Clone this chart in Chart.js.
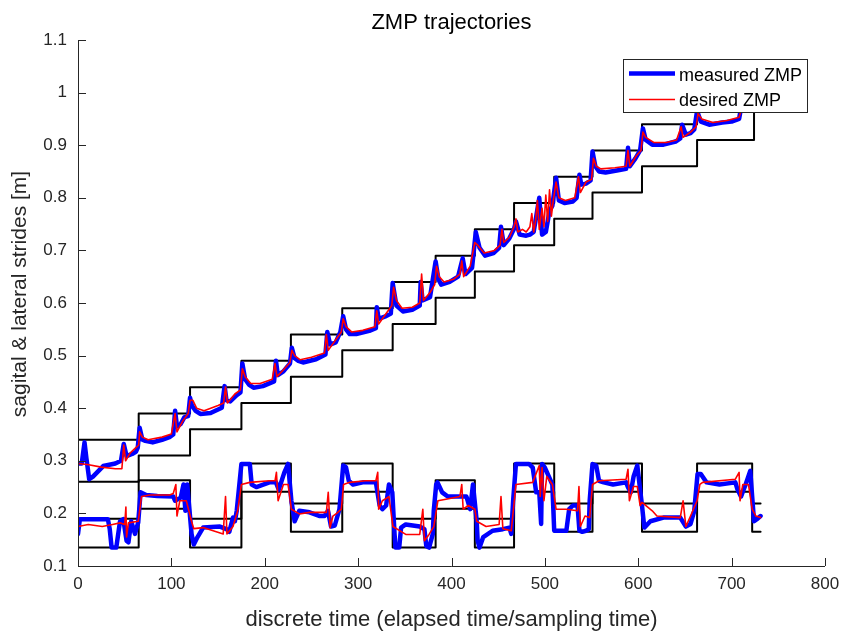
<!DOCTYPE html>
<html>
<head>
<meta charset="utf-8">
<script src="https://cdn.jsdelivr.net/npm/chart.js@4.4.1/dist/chart.umd.min.js"></script>
<style>
  html, body { margin: 0; padding: 0; background: #fff; }
</style>
</head>
<body>
<canvas id="zmpChart" width="855" height="634"></canvas>
<script>
// axis ticks
const xTicks = [0, 100, 200, 300, 400, 500, 600, 700, 800];
const yTickLabels = ['0.1', '0.2', '0.3', '0.4', '0.5', '0.6', '0.7', '0.8', '0.9', '1', '1.1'];

// footstep bounds (value holds from its time until the next one)
const stepTimes = [0, 65, 120, 175, 228, 283, 337, 383, 425, 467, 510, 551, 604, 663, 724];
const sagittalUpper = [0.34, 0.39, 0.44, 0.49, 0.54, 0.59, 0.64, 0.69, 0.74, 0.79, 0.84, 0.89, 0.94, 0.99, 0.99];
const sagittalLower = [0.26, 0.31, 0.36, 0.41, 0.46, 0.51, 0.56, 0.61, 0.66, 0.71, 0.76, 0.81, 0.86, 0.91, 0.99];
const lateralTimes = [0, 65, 120, 175, 228, 283, 337, 383, 425, 467, 510, 551, 604, 663, 722, 731];
const lateralUpper = [0.19, 0.263, 0.19, 0.295, 0.219, 0.295, 0.19, 0.263, 0.19, 0.295, 0.219, 0.295, 0.219, 0.295, 0.219, 0.219];
const lateralLower = [0.135, 0.209, 0.135, 0.241, 0.165, 0.241, 0.135, 0.209, 0.135, 0.241, 0.165, 0.241, 0.165, 0.241, 0.165, 0.165];

// measured ZMP, sagittal [t, m]
const measuredSagittal = [
  [0,0.295],[4,0.295],[7,0.335],[9,0.305],[12,0.265],[16,0.27],[27,0.29],[40,0.295],[46,0.30],[49,0.332],[52,0.309],[58,0.313],[62,0.317],[64,0.325],
  [66,0.363],[69,0.34],[72,0.338],[80,0.335],[90,0.34],[98,0.345],[102,0.35],[104,0.395],[106,0.365],[110,0.37],[114,0.383],[118,0.385],[120,0.42],
  [122,0.405],[126,0.395],[131,0.389],[142,0.391],[154,0.401],[157,0.442],[159,0.415],[163,0.413],[170,0.425],[174,0.43],[176,0.485],
  [179,0.455],[183,0.445],[188,0.439],[198,0.442],[210,0.451],[212,0.49],[214,0.463],[220,0.47],[227,0.485],[229,0.515],
  [232,0.495],[236,0.49],[241,0.487],[255,0.493],[265,0.502],[267,0.545],[270,0.521],[276,0.525],[281,0.545],[284,0.575],
  [287,0.55],[291,0.541],[298,0.541],[312,0.547],[319,0.552],[320,0.592],[322,0.57],[330,0.575],[335,0.58],[337,0.638],
  [341,0.595],[348,0.584],[358,0.587],[366,0.595],[367,0.64],[369,0.605],[377,0.611],[383,0.679],
  [386,0.645],[389,0.635],[398,0.64],[407,0.65],[412,0.685],[415,0.655],[422,0.667],[426,0.735],
  [430,0.705],[436,0.69],[445,0.695],[451,0.705],[453,0.745],[456,0.71],[462,0.723],[467,0.741],
  [469,0.755],[473,0.73],[480,0.728],[484,0.73],[488,0.735],[494,0.80],[497,0.73],[501,0.735],[505,0.775],[508,0.785],[512,0.838],
  [515,0.795],[521,0.79],[530,0.793],[534,0.80],[537,0.844],[539,0.825],[544,0.827],[549,0.833],[551,0.888],
  [554,0.86],[558,0.85],[565,0.848],[580,0.853],[587,0.855],[589,0.895],[591,0.86],[597,0.875],[602,0.89],[605,0.932],
  [608,0.91],[615,0.901],[627,0.901],[640,0.907],[645,0.913],[647,0.939],[651,0.92],[656,0.923],[660,0.93],[663,0.965],
  [667,0.945],[676,0.939],[690,0.943],[700,0.945],[708,0.95],[710,0.97]
];

// desired ZMP, sagittal
const desiredSagittal = [
  [0,0.295],[10,0.293],[25,0.288],[40,0.285],[47,0.285],[49,0.33],[51,0.30],[56,0.315],[62,0.325],[65,0.33],
  [66,0.355],[69,0.345],[75,0.34],[90,0.345],[100,0.351],[104,0.39],[106,0.355],[112,0.375],[118,0.39],[120,0.415],
  [123,0.415],[127,0.40],[135,0.395],[150,0.405],[156,0.41],[158,0.44],[160,0.41],[168,0.427],[174,0.435],[176,0.475],
  [179,0.46],[185,0.447],[195,0.447],[208,0.455],[211,0.485],[213,0.46],[220,0.473],[227,0.487],[229,0.51],
  [232,0.50],[238,0.492],[250,0.497],[264,0.505],[266,0.54],[268,0.51],[276,0.53],[282,0.545],[284,0.57],
  [287,0.555],[293,0.545],[305,0.548],[318,0.555],[320,0.585],[322,0.56],[330,0.58],[336,0.595],[338,0.63],
  [341,0.605],[347,0.59],[358,0.592],[366,0.60],[368,0.655],[370,0.605],[377,0.62],[382,0.635],[384,0.67],
  [387,0.65],[392,0.64],[402,0.645],[409,0.655],[411,0.68],[413,0.65],[420,0.67],[425,0.715],
  [428,0.71],[435,0.695],[446,0.70],[452,0.71],[454,0.74],[456,0.715],[462,0.725],[467,0.745],
  [469,0.76],[471,0.735],[476,0.74],[480,0.735],[484,0.745],[486,0.77],[488,0.735],[490,0.755],[492,0.795],[494,0.74],[497,0.78],[499,0.745],[501,0.805],[503,0.755],[505,0.815],[507,0.765],[509,0.795],[512,0.83],
  [515,0.80],[522,0.795],[532,0.80],[536,0.84],[538,0.81],[544,0.83],[550,0.835],[552,0.875],
  [555,0.86],[560,0.855],[575,0.857],[587,0.86],[589,0.89],[591,0.86],[598,0.88],[603,0.89],[605,0.925],
  [608,0.915],[617,0.905],[630,0.905],[641,0.91],[646,0.935],[648,0.915],[656,0.925],[662,0.935],[664,0.96],
  [668,0.95],[680,0.943],[695,0.947],[708,0.953],[710,0.965]
];

// measured ZMP, lateral
const measuredLateral = [
  [0,0.161],[2,0.189],[32,0.189],[34,0.17],[36,0.135],[41,0.135],[45,0.185],[48.5,0.189],[52,0.148],[54,0.145],[57,0.185],[61,0.161],[64.5,0.183],
  [67,0.24],[73,0.235],[85,0.233],[102,0.232],[104,0.224],[110,0.23],[113,0.255],[115,0.205],[117,0.255],
  [121.6,0.161],[124,0.141],[128,0.155],[134,0.173],[152,0.175],[159,0.17],[162,0.165],[166,0.192],[168,0.185],[170,0.205],
  [175,0.294],[184,0.294],[186,0.255],[191,0.25],[205,0.259],[212,0.259],[215,0.245],[221,0.278],[225,0.294],
  [228.5,0.224],[232,0.185],[237,0.205],[248,0.202],[259,0.195],[264,0.195],[267.7,0.205],[271,0.175],[275,0.177],[280,0.208],
  [284,0.291],[287,0.288],[290,0.262],[294.5,0.255],[305,0.259],[319,0.259],[323,0.215],[326,0.208],[330,0.215],[333,0.255],[336.6,0.24],
  [339,0.161],[340,0.135],[344,0.135],[346,0.173],[351,0.179],[366,0.175],[371,0.17],[373,0.138],[376,0.135],[380,0.161],[381,0.205],
  [383.6,0.255],[385,0.259],[390,0.24],[396,0.232],[409,0.232],[416,0.232],[420,0.208],[423,0.255],
  [427,0.185],[428,0.148],[430,0.135],[434,0.155],[444,0.167],[455,0.17],[462,0.173],[464,0.161],[466,0.224],
  [469,0.294],[483,0.294],[487,0.287],[490.7,0.24],[494,0.24],[496,0.18],[497,0.294],[500,0.287],[508,0.255],
  [510,0.167],[514,0.167],[523,0.167],[526,0.208],[530,0.215],[535,0.215],[537,0.167],[540,0.165],[544,0.167],[547,0.17],[548,0.224],
  [551,0.294],[555,0.291],[558,0.262],[563,0.259],[573,0.255],[587,0.259],[589,0.25],[592,0.24],[595,0.27],[599,0.291],
  [604,0.215],[606.5,0.173],[613,0.185],[627,0.192],[645,0.192],[651,0.175],[656,0.18],[660,0.205],
  [663.5,0.275],[667,0.275],[673,0.259],[687,0.255],[704,0.259],[706,0.247],[710,0.232],[715,0.255],[720,0.281],
  [722,0.232],[724,0.185],[727,0.189],[731,0.195]
];

// desired ZMP, lateral
const desiredLateral = [
  [0,0.175],[11,0.179],[26,0.175],[37,0.179],[45,0.182],[50,0.179],[51.3,0.212],[52,0.155],[54,0.182],[64.5,0.185],
  [68,0.232],[77,0.235],[98,0.235],[102,0.238],[104.8,0.255],[106,0.195],[109,0.224],[116,0.224],
  [121.6,0.185],[124,0.171],[134,0.173],[155.5,0.161],[158,0.232],[159.5,0.161],[166,0.175],[171,0.205],
  [175,0.255],[184,0.259],[205,0.262],[211,0.262],[212.5,0.278],[214.3,0.224],[220,0.255],[225,0.255],
  [228.5,0.208],[237,0.199],[248,0.202],[266,0.202],[268,0.24],[270,0.173],[273,0.195],[277,0.2],[282,0.208],
  [284.4,0.255],[291,0.259],[308,0.262],[319,0.262],[321,0.278],[322,0.208],[326,0.224],[333,0.232],
  [337.3,0.175],[351,0.16],[366,0.16],[369.3,0.208],[371,0.148],[376,0.16],[381,0.175],
  [385.4,0.224],[394,0.227],[409,0.232],[411,0.255],[412.5,0.208],[418,0.215],[425,0.208],
  [427,0.185],[437,0.175],[451,0.179],[453,0.232],[455,0.171],[464,0.167],
  [469,0.255],[487,0.259],[494,0.291],[495,0.232],[497,0.287],[499,0.224],[502,0.27],[508,0.255],
  [512,0.208],[523,0.208],[535,0.205],[536.5,0.251],[538,0.175],[543,0.195],[548,0.192],
  [551,0.255],[558,0.262],[587,0.265],[589,0.284],[590.5,0.224],[595,0.251],[599,0.251],
  [602,0.215],[604,0.221],[615,0.205],[620,0.195],[645,0.192],[648,0.224],[651,0.175],[656,0.195],[663,0.224],
  [666,0.255],[669,0.259],[704,0.265],[708,0.278],[709,0.224],[712,0.255],[718,0.255],
  [722,0.208],[726,0.195],[731,0.192]
];

const FONT = '"Liberation Sans", Arial, Helvetica, sans-serif';
const AXIS_COLOR = '#262626';

const toXY = pts => pts.map(p => ({ x: p[0], y: p[1] }));
const stairs = (times, vals) => times.map((t, i) => ({ x: t, y: vals[i] }));

const lineStyle = (data, color, width, order, stepped) => ({
  data,
  borderColor: color,
  borderWidth: width,
  pointRadius: 0,
  fill: false,
  tension: 0,
  stepped: stepped || false,
  borderJoinStyle: 'round',
  borderCapStyle: 'round',
  order
});

// MATLAB-like axes: left/bottom lines with inward ticks, labels, title, legend
const matlabAxes = {
  id: 'matlabAxes',
  afterDraw(chart) {
    const { ctx, chartArea: a, scales: { x, y } } = chart;
    ctx.save();
    ctx.strokeStyle = AXIS_COLOR;
    ctx.lineWidth = 1;
    ctx.beginPath();
    ctx.moveTo(a.left + 0.5, a.top);
    ctx.lineTo(a.left + 0.5, a.bottom + 0.5);
    ctx.lineTo(a.right, a.bottom + 0.5);
    xTicks.forEach(v => {
      const px = Math.round(x.getPixelForValue(v)) + 0.5;
      ctx.moveTo(px, a.bottom);
      ctx.lineTo(px, a.bottom - 8);
    });
    y.ticks.forEach(t => {
      const py = Math.round(y.getPixelForValue(t.value)) + 0.5;
      ctx.moveTo(a.left, py);
      ctx.lineTo(a.left + 8, py);
    });
    ctx.stroke();

    ctx.fillStyle = '#000';
    ctx.textAlign = 'center';
    ctx.textBaseline = 'alphabetic';
    ctx.font = '22px ' + FONT;
    ctx.fillText('ZMP trajectories', (a.left + a.right) / 2, 29);

    ctx.fillStyle = AXIS_COLOR;
    ctx.font = '22px ' + FONT;
    ctx.fillText('discrete time (elapsed time/sampling time)', (a.left + a.right) / 2, 626);
    ctx.font = '21px ' + FONT;
    ctx.save();
    ctx.translate(26, 294);
    ctx.rotate(-Math.PI / 2);
    ctx.fillText('sagital & lateral strides [m]', 0, 0);
    ctx.restore();

    // legend box
    ctx.fillStyle = '#fff';
    ctx.fillRect(623, 59, 185, 54);
    ctx.strokeStyle = AXIS_COLOR;
    ctx.strokeRect(623.5, 59.5, 184, 53);
    ctx.lineCap = 'butt';
    ctx.strokeStyle = '#0000ff';
    ctx.lineWidth = 4.5;
    ctx.beginPath(); ctx.moveTo(629, 73.5); ctx.lineTo(675, 73.5); ctx.stroke();
    ctx.strokeStyle = '#ff0000';
    ctx.lineWidth = 1.6;
    ctx.beginPath(); ctx.moveTo(629, 99.5); ctx.lineTo(675, 99.5); ctx.stroke();
    ctx.fillStyle = '#000';
    ctx.textAlign = 'left';
    ctx.font = '18px ' + FONT;
    ctx.fillText('measured ZMP', 679, 80.5);
    ctx.fillText('desired ZMP', 679, 106);
    ctx.restore();
  }
};

new Chart(document.getElementById('zmpChart'), {
  type: 'line',
  data: {
    datasets: [
      lineStyle(toXY(desiredSagittal), '#ff0000', 1.6, 0),
      lineStyle(toXY(desiredLateral), '#ff0000', 1.6, 0),
      lineStyle(toXY(measuredSagittal), '#0000ff', 4.5, 1),
      lineStyle(toXY(measuredLateral), '#0000ff', 4.5, 1),
      lineStyle(stairs(stepTimes, sagittalUpper), '#000000', 2, 2, true),
      lineStyle(stairs(stepTimes, sagittalLower), '#000000', 2, 2, true),
      lineStyle(stairs(lateralTimes, lateralUpper), '#000000', 2, 2, true),
      lineStyle(stairs(lateralTimes, lateralLower), '#000000', 2, 2, true)
    ]
  },
  options: {
    responsive: false,
    animation: false,
    devicePixelRatio: 1,
    layout: { padding: { top: 40, right: 30, left: 0, bottom: 0 } },
    plugins: {
      legend: { display: false },
      tooltip: { enabled: false },
      title: { display: false }
    },
    scales: {
      x: {
        type: 'linear',
        min: 0,
        max: 800,
        afterBuildTicks: s => { s.ticks = xTicks.map(v => ({ value: v })); },
        ticks: { padding: 8, color: AXIS_COLOR, font: { family: FONT, size: 17 }, maxRotation: 0 },
        grid: { display: false, drawTicks: false },
        border: { display: false },
        afterFit: s => { s.height = 68; }
      },
      y: {
        type: 'linear',
        min: 0.1,
        max: 1.1,
        ticks: {
          stepSize: 0.1,
          padding: 11,
          color: AXIS_COLOR,
          font: { family: FONT, size: 17 },
          callback: (v, i) => yTickLabels[i]
        },
        grid: { display: false, drawTicks: false },
        border: { display: false },
        afterFit: s => { s.width = 78; }
      }
    }
  },
  plugins: [matlabAxes]
});
</script>
</body>
</html>
